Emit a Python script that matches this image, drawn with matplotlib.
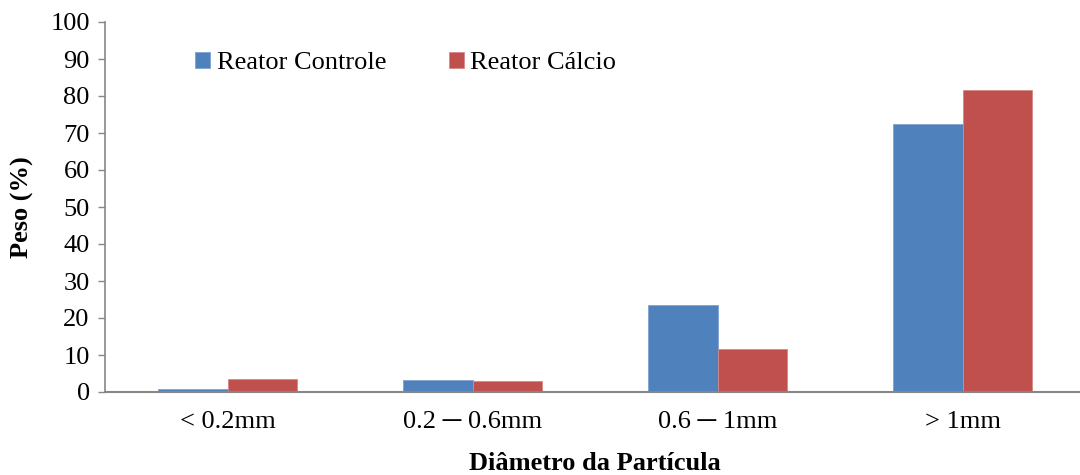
import numpy as np
import matplotlib.pyplot as plt

plt.rcParams['font.family'] = ['Liberation Serif', 'DejaVu Serif']

categories = ['< 0.2mm', '0.2 \u2500 0.6mm', '0.6 \u2500 1mm', '> 1mm']
controle = [0.7, 3.2, 23.5, 72.3]
calcio = [3.4, 3.1, 11.5, 81.6]

blue = '#4F81BD'
red = '#C0504D'
grey = '#868686'
fs = 19

fig = plt.figure(figsize=(10.8, 4.75), dpi=100)
ax = fig.add_axes([105 / 1080, 83 / 475, 980 / 1080, 370 / 475])

x = np.arange(len(categories))
w = 0.2857
ax.bar(x - w / 2, controle, w, color=blue, edgecolor='#7fa3d1', linewidth=0.6, label='Reator Controle')
ax.bar(x + w / 2, calcio, w, color=red, edgecolor='#d48a88', linewidth=0.6, label='Reator Cálcio')

ax.set_xlim(-0.5, len(categories) - 0.5)
ax.set_ylim(0, 100)
ax.set_yticks(np.arange(0, 101, 10))
ax.set_xticks(x)
ax.set_xticklabels(categories)
ax.tick_params(axis='y', length=5, width=1, color=grey, labelsize=fs, pad=6)
ax.tick_params(axis='x', length=0, labelsize=fs, pad=14)

for side in ['top', 'right']:
    ax.spines[side].set_visible(False)
ax.spines['left'].set_color(grey)
ax.spines['bottom'].set_color(grey)
ax.spines['left'].set_linewidth(1.2)
ax.spines['bottom'].set_linewidth(1.5)

ax.set_ylabel('Peso (%)', fontsize=fs, fontweight='bold', labelpad=12)
ax.set_xlabel('Diâmetro da Partícula', fontsize=fs, fontweight='bold', labelpad=13)

ax.legend(loc='center left', bbox_to_anchor=(0.068, 0.889), ncol=2, frameon=False,
          fontsize=fs, handlelength=0.55, handleheight=0.55, handletextpad=0.25,
          columnspacing=2.4)

fig.savefig('out.png', dpi=100)
